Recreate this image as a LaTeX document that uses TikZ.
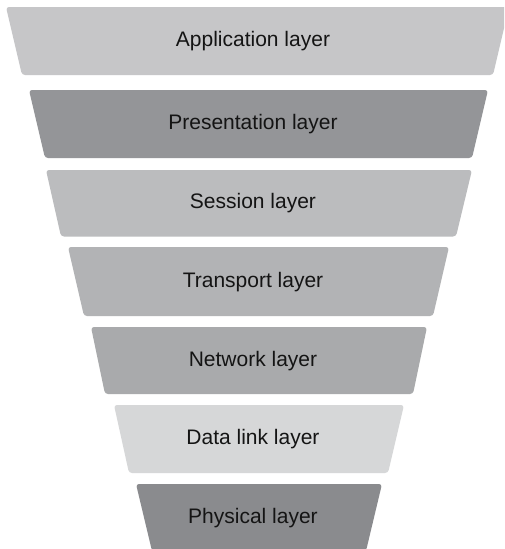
\documentclass[tikz,border=0pt]{standalone}
\usepackage{fontspec}
\setmainfont{Liberation Sans}
\definecolor{cA}{HTML}{C6C6C8}
\definecolor{cB}{HTML}{949598}
\definecolor{cC}{HTML}{BBBCBE}
\definecolor{cD}{HTML}{B2B3B5}
\definecolor{cE}{HTML}{A9AAAC}
\definecolor{cF}{HTML}{D6D7D8}
\definecolor{cG}{HTML}{8A8B8E}
\tikzset{
  layershape/.style={rounded corners=3pt},
  layertext/.style={anchor=base, inner sep=0pt, text=black!92, font=\fontsize{21}{25}\selectfont}
}
\newcommand{\layerbox}[9]{%
  % #1 colour, #2 ytop, #3 ybot, #4 tl, #5 tr, #6 bl, #7 br, #8 name, #9 text
  \fill[layershape, #1] (#4,#2) -- (#5,#2) -- (#7,#3) -- (#6,#3) -- cycle;
  \node[layertext] (#8) at (253,{(#2+#3)/2+5.5}) {#9};
}
\begin{document}
\begin{tikzpicture}[x=1pt,y=-1pt]
\useasboundingbox (0,0) rectangle (504,549);
\clip (0,0) rectangle (504,549);
\fill[white] (0,0) rectangle (504,549);
\layerbox{cA}{7}{75}{6}{509}{22}{493}{app}{Application layer}
\layerbox{cB}{90}{158}{29}{488}{45}{472}{pres}{Presentation layer}
\layerbox{cC}{170}{236.5}{46}{472}{61}{456}{sess}{Session layer}
\layerbox{cD}{247}{316}{68}{449}{84}{433}{trans}{Transport layer}
\layerbox{cE}{327}{394}{91}{427}{105}{413}{net}{Network layer}
\layerbox{cF}{405}{473}{114}{404}{129}{388}{dlink}{Data link layer}
\layerbox{cG}{484}{551}{136}{382}{152}{366}{phys}{Physical layer}
\end{tikzpicture}
\end{document}
